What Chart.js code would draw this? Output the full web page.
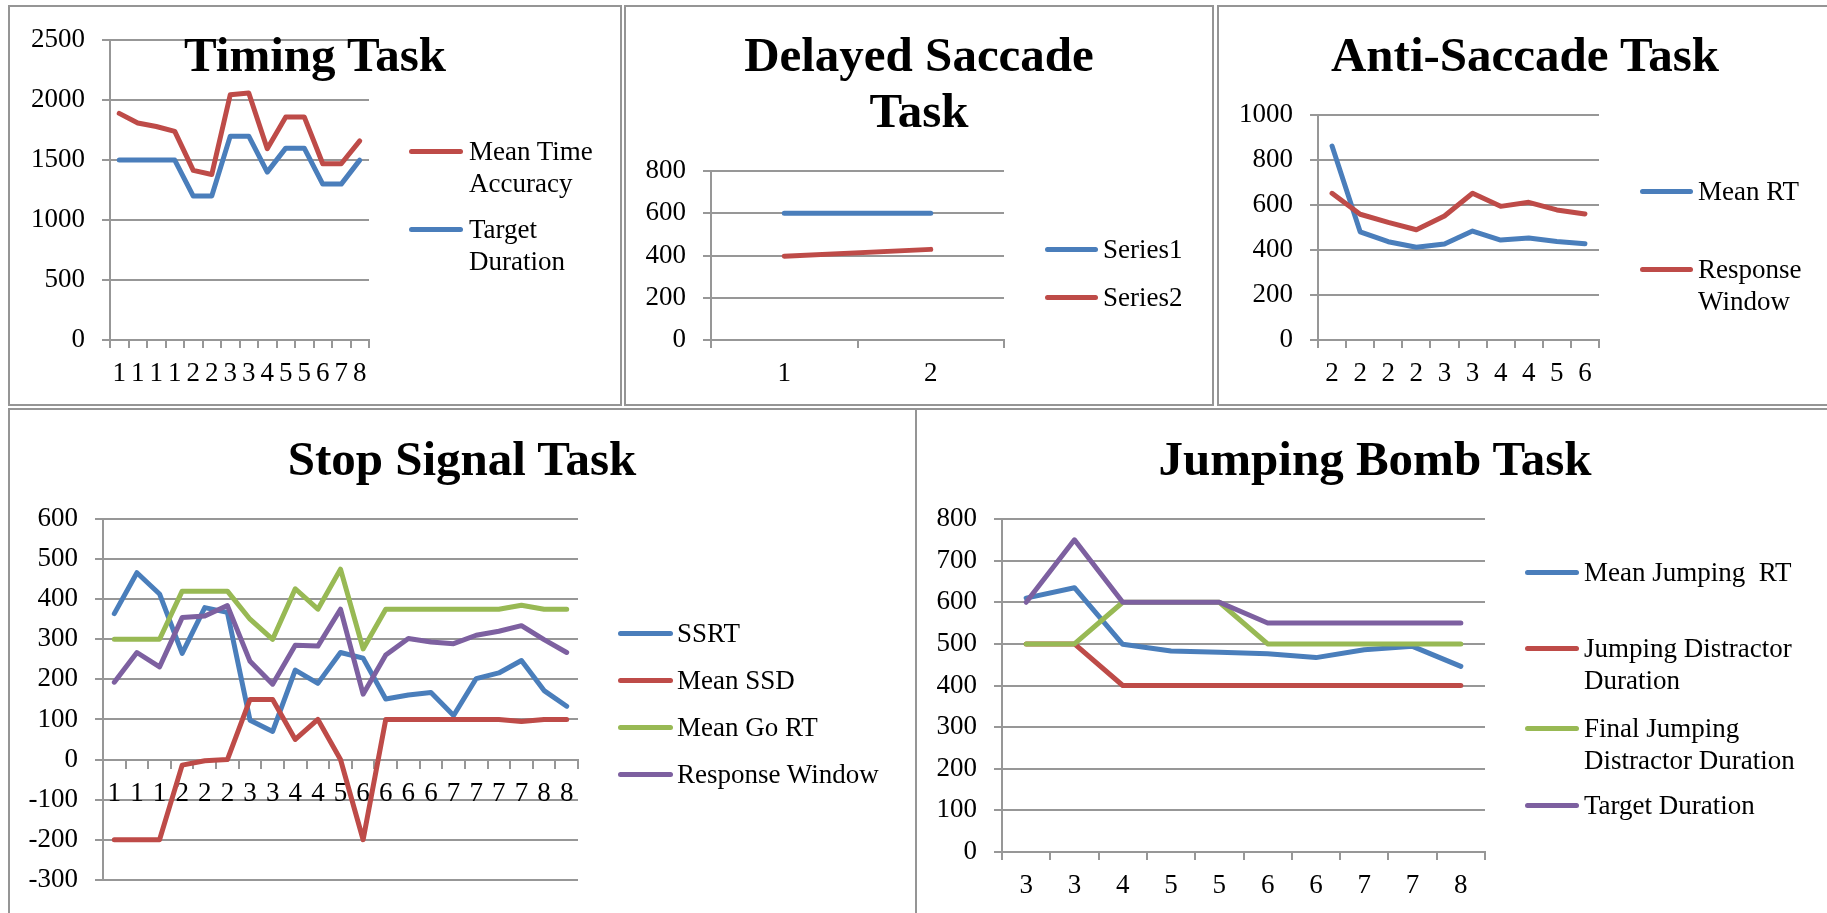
<!DOCTYPE html>
<html>
<head>
<meta charset="utf-8">
<script src="https://cdn.jsdelivr.net/npm/chart.js@4.4.1/dist/chart.umd.min.js"></script>
<style>
  html, body { margin: 0; padding: 0; background: #fff; }
  body { position: relative; width: 1827px; height: 913px; overflow: hidden; font-family: 'Liberation Serif', serif; }
  .panel { position: absolute; border: 2px solid #959595; box-sizing: border-box; }
  canvas { position: absolute; }
  .title { position: absolute; width: 800px; text-align: center; font-weight: bold; font-size: 49px; line-height: 56px; color: #000; white-space: pre; }
  .leg { position: absolute; font-size: 27px; line-height: 32px; color: #000; white-space: pre; }
  .swatch { position: absolute; height: 5px; border-radius: 3px; }
</style>
</head>
<body>
<script>
  // ---- data ----
  const timingLabels = ['1', '1', '1', '1', '2', '2', '3', '3', '4', '5', '5', '6', '7', '8'];
  const timingAccuracy = [1890, 1810, 1780, 1740, 1415, 1380, 2045, 2060, 1595, 1860, 1860, 1470, 1470, 1660];
  const timingTarget = [1500, 1500, 1500, 1500, 1200, 1200, 1700, 1700, 1400, 1600, 1600, 1300, 1300, 1500];

  const delayedLabels = ['1', '2'];
  const delayedSeries1 = [600, 600];
  const delayedSeries2 = [397, 429];

  const antiLabels = ['2', '2', '2', '2', '3', '3', '4', '4', '5', '6'];
  const antiMeanRT = [862, 481, 437, 412, 427, 484, 444, 453, 438, 428];
  const antiResponse = [652, 559, 523, 490, 551, 652, 594, 612, 578, 560];

  const stopLabels = ['1', '1', '1', '2', '2', '2', '3', '3', '4', '4', '5', '6', '6', '6', '6', '7', '7', '7', '7', '8', '8'];
  const stopSSRT = [364, 466, 413, 265, 379, 367, 98, 70, 223, 190, 267, 253, 151, 161, 167, 110, 202, 216, 247, 172, 133];
  const stopMeanSSD = [-200, -200, -200, -14, -3, 0, 150, 150, 50, 100, 0, -200, 100, 100, 100, 100, 100, 100, 95, 100, 100];
  const stopMeanGoRT = [300, 300, 300, 420, 420, 420, 350, 300, 426, 375, 475, 276, 375, 375, 375, 375, 375, 375, 385, 375, 375];
  const stopResponse = [193, 267, 231, 354, 358, 384, 245, 188, 285, 283, 375, 163, 261, 302, 293, 289, 310, 320, 334, 299, 267];

  const jumpLabels = ['3', '3', '4', '5', '5', '6', '6', '7', '7', '8'];
  const jumpMeanRT = [610, 635, 499, 483, 480, 476, 467, 486, 494, 446];
  const jumpDistractor = [500, 500, 400, 400, 400, 400, 400, 400, 400, 400];
  const jumpFinal = [500, 500, 600, 600, 600, 500, 500, 500, 500, 500];
  const jumpTarget = [600, 750, 600, 600, 600, 550, 550, 550, 550, 550];

  const BLUE = '#4a7ebb', RED = '#be4b48', GREEN = '#98b954', PURPLE = '#7d60a0';
  const GRID = '#979797';
  const FONT = { family: 'Liberation Serif', size: 27 };

  function addPanel(l, t, w, h) {
    const d = document.createElement('div');
    d.className = 'panel';
    Object.assign(d.style, { left: l + 'px', top: t + 'px', width: w + 'px', height: h + 'px' });
    document.body.appendChild(d);
  }

  function addTitle(cx, top, text) {
    const d = document.createElement('div');
    d.className = 'title';
    d.textContent = text;
    d.style.left = (cx - 400) + 'px';
    d.style.top = top + 'px';
    document.body.appendChild(d);
  }

  // legend: swatch from x1 to x2, text starting at tx, first text line centred on y
  function addLegend(x1, x2, tx, items) {
    items.forEach(it => {
      const s = document.createElement('div');
      s.className = 'swatch';
      Object.assign(s.style, { left: x1 + 'px', top: (it.y - 2.5) + 'px', width: (x2 - x1) + 'px', background: it.color });
      document.body.appendChild(s);
      const t = document.createElement('div');
      t.className = 'leg';
      t.textContent = it.text;
      t.style.left = tx + 'px';
      t.style.top = (it.y - 16) + 'px';
      document.body.appendChild(t);
    });
  }

  function makeChart(box, plot, labels, series, y, xAtZero) {
    const c = document.createElement('canvas');
    c.width = box.w; c.height = box.h;
    Object.assign(c.style, { left: box.x + 'px', top: box.y + 'px', width: box.w + 'px', height: box.h + 'px' });
    document.body.appendChild(c);

    const Y_W = 80, X_H = 50;
    const n = series.length;
    return new Chart(c, {
      type: 'line',
      data: {
        labels: labels,
        datasets: series.map((s, i) => ({
          label: s.name,
          data: s.data,
          borderColor: s.color,
          backgroundColor: s.color,
          borderWidth: 5,
          pointRadius: 0,
          tension: 0,
          borderCapStyle: 'round',
          borderJoinStyle: 'round',
          order: n - i
        }))
      },
      options: {
        responsive: false,
        animation: false,
        devicePixelRatio: 1,
        layout: {
          padding: {
            left: plot.l - box.x - Y_W,
            right: box.x + box.w - plot.r,
            top: plot.t - box.y,
            bottom: box.y + box.h - plot.b - (xAtZero ? 0 : X_H)
          }
        },
        plugins: { legend: { display: false }, title: { display: false }, tooltip: { enabled: false } },
        scales: {
          x: {
            type: 'category',
            offset: true,
            position: xAtZero ? { y: 0 } : 'bottom',
            grid: { offset: true, drawOnChartArea: false, drawTicks: true, tickLength: 8, color: GRID, lineWidth: 2 },
            border: { display: true, color: GRID, width: 2 },
            ticks: { autoSkip: false, maxRotation: 0, minRotation: 0, padding: 10, color: '#000', font: FONT },
            afterFit: s => { if (!xAtZero) s.height = X_H; }
          },
          y: {
            min: y.min, max: y.max,
            grid: { color: GRID, lineWidth: 2, drawTicks: true, tickLength: 8 },
            border: { display: true, color: GRID, width: 2 },
            ticks: { stepSize: y.step, padding: 17, color: '#000', font: FONT, callback: v => String(v) },
            afterFit: s => { s.width = Y_W; }
          }
        }
      }
    });
  }

  // panel frames
  addPanel(8, 5, 614, 401);
  addPanel(624, 5, 590, 401);
  addPanel(1217, 5, 640, 401);
  addPanel(8, 408, 909, 520);
  addPanel(915, 408, 930, 520);

  // Timing Task
  makeChart({ x: 10, y: 7, w: 610, h: 397 }, { l: 110, r: 369, t: 34, b: 340 }, timingLabels, [
    { name: 'Mean Time Accuracy', data: timingAccuracy, color: RED },
    { name: 'Target Duration', data: timingTarget, color: BLUE }
  ], { min: 0, max: 2500, step: 500 }, false);
  addTitle(315, 26.5, 'Timing Task');
  addLegend(409, 463, 469, [
    { y: 151, color: RED, text: 'Mean Time\nAccuracy' },
    { y: 229, color: BLUE, text: 'Target\nDuration' }
  ]);

  // Delayed Saccade Task
  makeChart({ x: 626, y: 7, w: 586, h: 397 }, { l: 711, r: 1004, t: 171, b: 340 }, delayedLabels, [
    { name: 'Series1', data: delayedSeries1, color: BLUE },
    { name: 'Series2', data: delayedSeries2, color: RED }
  ], { min: 0, max: 800, step: 200 }, false);
  addTitle(919, 26.5, 'Delayed Saccade\nTask');
  addLegend(1045, 1098, 1103, [
    { y: 249, color: BLUE, text: 'Series1' },
    { y: 297, color: RED, text: 'Series2' }
  ]);

  // Anti-Saccade Task
  makeChart({ x: 1219, y: 7, w: 608, h: 397 }, { l: 1318, r: 1599, t: 115, b: 340 }, antiLabels, [
    { name: 'Mean RT', data: antiMeanRT, color: BLUE },
    { name: 'Response Window', data: antiResponse, color: RED }
  ], { min: 0, max: 1000, step: 200 }, false);
  addTitle(1525, 26.5, 'Anti-Saccade Task');
  addLegend(1640, 1693, 1698, [
    { y: 191, color: BLUE, text: 'Mean RT' },
    { y: 269, color: RED, text: 'Response\nWindow' }
  ]);

  // Stop Signal Task
  makeChart({ x: 10, y: 410, w: 905, h: 503 }, { l: 103, r: 578, t: 519, b: 888 }, stopLabels, [
    { name: 'SSRT', data: stopSSRT, color: BLUE },
    { name: 'Mean SSD', data: stopMeanSSD, color: RED },
    { name: 'Mean Go RT', data: stopMeanGoRT, color: GREEN },
    { name: 'Response Window', data: stopResponse, color: PURPLE }
  ], { min: -300, max: 600, step: 100 }, true);
  addTitle(462, 430.5, 'Stop Signal Task');
  addLegend(618, 673, 677, [
    { y: 633, color: BLUE, text: 'SSRT' },
    { y: 680, color: RED, text: 'Mean SSD' },
    { y: 727, color: GREEN, text: 'Mean Go RT' },
    { y: 774, color: PURPLE, text: 'Response Window' }
  ]);

  // Jumping Bomb Task
  makeChart({ x: 917, y: 410, w: 910, h: 503 }, { l: 1002, r: 1485, t: 519, b: 852 }, jumpLabels, [
    { name: 'Mean Jumping  RT', data: jumpMeanRT, color: BLUE },
    { name: 'Jumping Distractor Duration', data: jumpDistractor, color: RED },
    { name: 'Final Jumping Distractor Duration', data: jumpFinal, color: GREEN },
    { name: 'Target Duration', data: jumpTarget, color: PURPLE }
  ], { min: 0, max: 800, step: 100 }, false);
  addTitle(1375, 430.5, 'Jumping Bomb Task');
  addLegend(1525, 1579, 1584, [
    { y: 572, color: BLUE, text: 'Mean Jumping  RT' },
    { y: 648, color: RED, text: 'Jumping Distractor\nDuration' },
    { y: 728, color: GREEN, text: 'Final Jumping\nDistractor Duration' },
    { y: 805, color: PURPLE, text: 'Target Duration' }
  ]);
</script>
</body>
</html>
